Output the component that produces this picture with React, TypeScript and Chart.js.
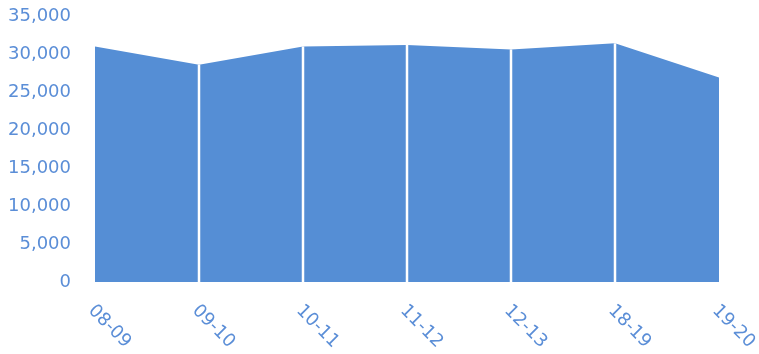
import React, { useEffect, useRef } from "react";
import { Chart, registerables } from "chart.js";

Chart.register(...registerables);

const categories = ["08-09", "09-10", "10-11", "11-12", "12-13", "18-19", "19-20"];
const values = [31000, 28600, 31000, 31200, 30600, 31400, 26900];
const yMin = 0;
const yMax = 35000;
const yStep = 5000;

const FILL = "#558ed5";
const TEXT = "#5b8ed7";
const FONT = "DejaVu Sans";

const dropLines = {
  id: "dropLines",
  afterDatasetsDraw(chart: any) {
    const meta = chart.getDatasetMeta(0);
    const ctx = chart.ctx;
    const bottom = chart.chartArea.bottom;
    ctx.save();
    ctx.strokeStyle = "#ffffff";
    ctx.lineWidth = 2.5;
    for (let i = 1; i < meta.data.length - 1; i++) {
      const p = meta.data[i];
      ctx.beginPath();
      ctx.moveTo(p.x, p.y);
      ctx.lineTo(p.x, bottom);
      ctx.stroke();
    }
    ctx.restore();
  },
};

const rotatedLabels = {
  id: "rotatedLabels",
  afterDraw(chart: any) {
    const ctx = chart.ctx;
    const xs = chart.scales.x;
    const labels = chart.data.labels as string[];
    ctx.save();
    ctx.fillStyle = TEXT;
    ctx.font = `18px "${FONT}"`;
    ctx.textAlign = "left";
    ctx.textBaseline = "middle";
    labels.forEach((lab, i) => {
      const x = xs.getPixelForValue(i);
      ctx.save();
      ctx.translate(x - 4, 308);
      ctx.rotate(Math.PI / 4);
      ctx.fillText(lab, 0, 0);
      ctx.restore();
    });
    ctx.restore();
  },
};

export default function App() {
  const ref = useRef<HTMLCanvasElement>(null);
  useEffect(() => {
    document.body.style.margin = "0";
    const chart = new Chart(ref.current!, {
      type: "line",
      data: {
        labels: categories,
        datasets: [
          {
            data: values,
            backgroundColor: FILL,
            borderWidth: 0,
            borderColor: FILL,
            fill: "origin",
            pointRadius: 0,
            tension: 0,
          },
        ],
      },
      options: {
        animation: false,
        responsive: false,
        devicePixelRatio: 1,
        layout: { padding: { top: 16, bottom: 72, right: 40, left: 0 } },
        plugins: { legend: { display: false }, tooltip: { enabled: false } },
        scales: {
          x: {
            display: false,
            offset: false,
          },
          y: {
            min: yMin,
            max: yMax,
            border: { display: false },
            grid: { display: false, drawTicks: false },
            ticks: {
              stepSize: yStep,
              padding: 24,
              color: TEXT,
              font: { family: FONT, size: 18 },
              callback: (v: any) => Number(v).toLocaleString("en-US"),
            },
            afterFit: (s: any) => {
              s.width = 95;
              s.paddingTop = 0;
              s.paddingBottom = 0;
            },
          },
        },
      },
      plugins: [dropLines, rotatedLabels],
    });
    return () => chart.destroy();
  }, []);
  return (
    <div style={{ width: 759, height: 354 }}>
      <canvas ref={ref} width={759} height={354} />
    </div>
  );
}
